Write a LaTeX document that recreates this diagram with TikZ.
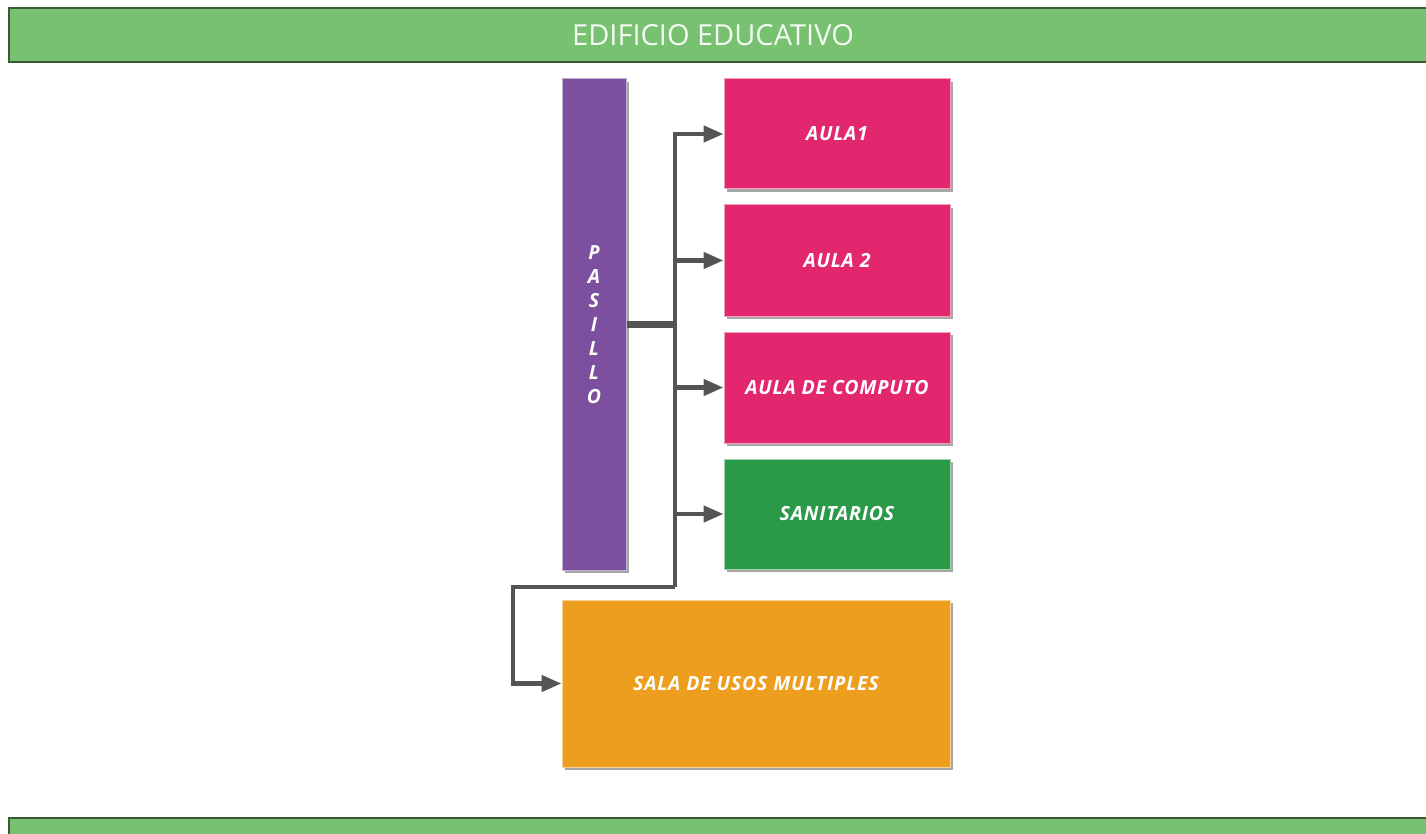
\documentclass[tikz,border=0pt]{standalone}
\usepackage{fontspec}
\setmainfont{Open Sans}
\usetikzlibrary{arrows.meta,shadows}

\definecolor{banner}{HTML}{77C170}
\definecolor{bannerline}{HTML}{3B5A37}
\definecolor{aulapink}{HTML}{E2276F}
\definecolor{pasillopurple}{HTML}{7C4F9F}
\definecolor{sanigreen}{HTML}{2A9A48}
\definecolor{salaorange}{HTML}{EE9E1F}
\definecolor{conngray}{HTML}{545454}

\tikzset{
  room/.style={rectangle, draw=white!55!#1, line width=1pt, fill=#1, text=white,
    font=\fontsize{19.5}{24}\selectfont\bfseries\itshape\addfontfeature{LetterSpace=4}, align=center,
    drop shadow={shadow xshift=3pt, shadow yshift=-3pt, fill=black, opacity=.35}},
  conn/.style={draw=conngray, line width=4.5pt},
  tip/.style={-{Triangle[length=20pt,width=16pt]}}
}

\begin{document}
\begin{tikzpicture}[x=1pt, y=-1pt]
            \useasboundingbox (0,0) rectangle (1426,834);
            \fill[white] (0,0) rectangle (1426,834);
            % banners
            \draw[fill=banner, draw=bannerline, line width=2pt] (9,8) rectangle (1440,62);
            \node[text=white!92!banner, font=\fontsize{29}{34}\selectfont] (title) at (713,35) {EDIFICIO EDUCATIVO};
            \draw[fill=banner, draw=bannerline, line width=2pt] (9,818) rectangle (1440,850);

            \node[room=pasillopurple, minimum width=64pt, minimum height=491pt] (pasillo) at (594,324.5)
              {P\\A\\S\\I\\L\\L\\O};
            \node[room=aulapink, minimum width=226pt, minimum height=110pt] (aula1) at (837,134) {AULA1};
            \node[room=aulapink, minimum width=226pt, minimum height=111pt] (aula2) at (837,260.5) {AULA 2};
            \node[room=aulapink, minimum width=226pt, minimum height=111pt] (computo) at (837,387.5) {AULA DE COMPUTO};
            \node[room=sanigreen, minimum width=226pt, minimum height=110pt] (sanitarios) at (837,514) {SANITARIOS};
            \node[room=salaorange, minimum width=388pt, minimum height=167pt] (sala) at (756,683.5) {SALA DE USOS MULTIPLES};

            \coordinate (trunk) at (675,587);
            \coordinate (bend) at (513,587);
            \draw[conn, line width=7pt] (pasillo.east) -- (pasillo.east -| trunk);
            \draw[conn, tip] (trunk) -- (trunk |- aula1.west) -- (aula1.west);
            \foreach \n in {aula2,computo,sanitarios}
              \draw[conn, tip] (trunk |- \n.west) -- (\n.west);
            \draw[conn, tip] (trunk) -- (bend) |- (sala.west);
        \end{tikzpicture}
\end{document}
